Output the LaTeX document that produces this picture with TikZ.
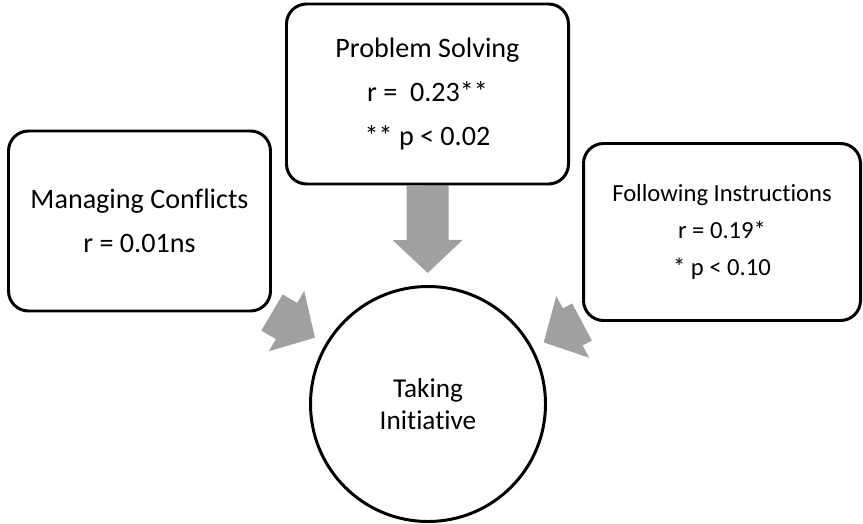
\documentclass[tikz,border=0pt]{standalone}
\usepackage{fontspec}
\setmainfont{Carlito}[Ligatures=NoCommon]
\usetikzlibrary{arrows.meta}
\definecolor{arrowgray}{RGB}{160,160,160}
\pgfdeclarelayer{background}
\pgfsetlayers{background,main}
\tikzset{
	box/.style={draw, line width=1.7pt, rounded corners=0.4cm, fill=white, align=center, inner sep=0pt},
	bigarrow/.style={draw=arrowgray, line width=0.84cm, -{Triangle[width=1.36cm, length=0.66cm]}, shorten >=0.24cm}
}

\begin{document}
\begin{tikzpicture}
				\useasboundingbox (0,0) rectangle (17.26,-10.48);
				\node[box, minimum width=5.64cm, minimum height=3.6cm, font=\fontsize{16}{25}\selectfont] (PS)at(8.55, -1.88) {Problem Solving\\r =\ \ 0.23**\\** p < 0.02};
				\node[box, minimum width=5.24cm, minimum height=3.6cm, font=\fontsize{16}{25}\selectfont] (MC)at(2.79, -4.42) {Managing Conflicts\\r = 0.01ns};
				\node[box, minimum width=5.54cm, minimum height=3.54cm, font=\fontsize{14}{21}\selectfont] (FI)at(14.44, -4.64) {Following Instructions\\r = 0.19*\\* p < 0.10};
				\node[draw, circle, line width=1.7pt, minimum size=4.7cm, align=center, fill=white, font=\fontsize{15.5}{18.5}\selectfont] (TI)at(8.56, -8.08) {Taking\\Initiative};
				\begin{pgfonlayer}{background}
				\draw[bigarrow] (PS.south) -- (TI);
				\draw[bigarrow] (MC.south east) -- (TI);
				\draw[bigarrow] (FI.south west) -- (TI);
				\end{pgfonlayer}
			\end{tikzpicture}
\end{document}
